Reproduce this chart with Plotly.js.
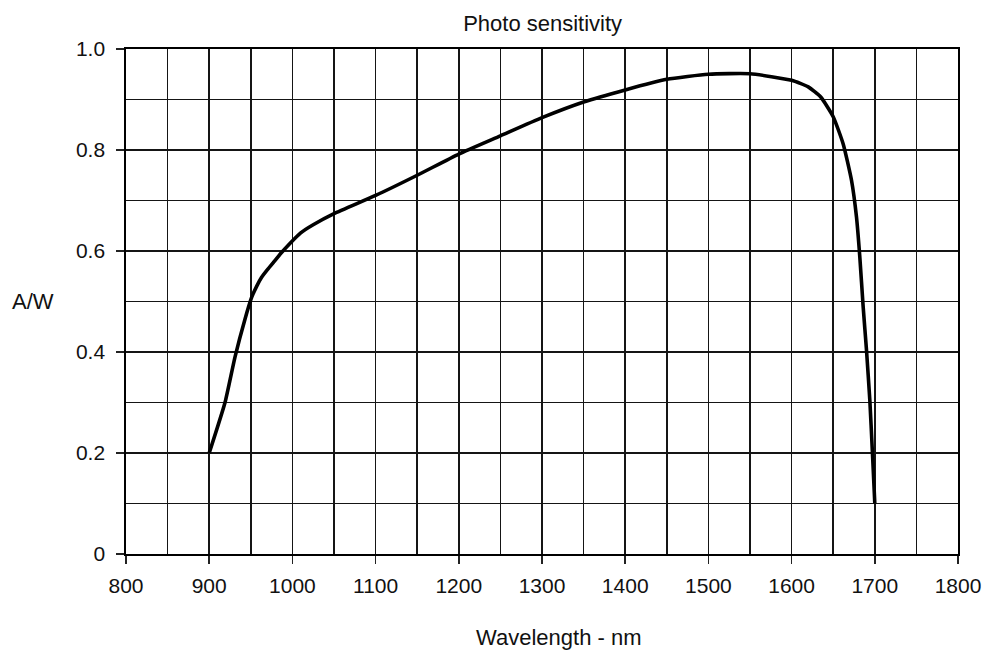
<!DOCTYPE html>
<html>
<head>
<meta charset="utf-8">
<script src="https://cdn.plot.ly/plotly-3.0.1.min.js"></script>
<style>html,body{margin:0;padding:0;background:#fff;}#chart{width:992px;height:655px;}</style>
</head>
<body>
<div id="chart"></div>
<script>
const wavelength = [900, 919, 931, 943, 951, 957, 963, 970, 977, 987, 997, 1010, 1025, 1050, 1100, 1150, 1200, 1250, 1300, 1350, 1400, 1450, 1500, 1550, 1600, 1620, 1635, 1650, 1662, 1672, 1678, 1682, 1686, 1690, 1694, 1697, 1700];
const sensitivity = [0.20, 0.30, 0.39, 0.465, 0.508, 0.530, 0.548, 0.563, 0.577, 0.597, 0.615, 0.636, 0.652, 0.674, 0.710, 0.750, 0.792, 0.828, 0.864, 0.895, 0.919, 0.940, 0.950, 0.951, 0.938, 0.925, 0.905, 0.866, 0.812, 0.740, 0.667, 0.588, 0.490, 0.404, 0.305, 0.206, 0.10];
const xTicks = [800, 900, 1000, 1100, 1200, 1300, 1400, 1500, 1600, 1700, 1800];
const yTicks = [0, 0.2, 0.4, 0.6, 0.8, 1.0];
const yTickText = ['0', '0.2', '0.4', '0.6', '0.8', '1.0'];
const titleText = 'Photo sensitivity';
const xTitle = 'Wavelength - nm';
const yTitle = 'A/W';

const FONT = '"Liberation Sans Narrow", "Arial Narrow", "Liberation Sans", Arial, sans-serif';
const GRID = '#151515';

const trace = {
  x: wavelength, y: sensitivity, type: 'scatter', mode: 'lines',
  line: {color: '#000', width: 3.6, shape: 'spline', smoothing: 0.5},
  hoverinfo: 'skip'
};

const layout = {
  width: 992, height: 655,
  margin: {l: 126, r: 34, t: 48.5, b: 101},
  paper_bgcolor: '#fff', plot_bgcolor: '#fff',
  showlegend: false,
  font: {family: FONT, size: 21, color: '#111'},
  title: {text: titleText, x: 0.547, xanchor: 'center', y: 0.965, yanchor: 'middle', font: {family: FONT, size: 22, color: '#111'}},
  xaxis: {
    range: [800, 1800], tickvals: xTicks, ticktext: xTicks.map(String),
    ticks: 'outside', ticklen: 8, tickwidth: 1.5, tickcolor: '#222', ticklabelstandoff: 4,
    showgrid: true, gridcolor: GRID, gridwidth: 1.7,
    minor: {dtick: 50, tick0: 800, showgrid: true, gridcolor: GRID, gridwidth: 1.7},
    showline: true, linecolor: '#000', linewidth: 1.7, mirror: true,
    zeroline: false, tickfont: {family: FONT, size: 21, color: '#111'}
  },
  yaxis: {
    range: [0, 1], tickvals: yTicks, ticktext: yTickText,
    ticks: 'outside', ticklen: 8, tickwidth: 1.5, tickcolor: '#222', ticklabelstandoff: 7,
    showgrid: true, gridcolor: GRID, gridwidth: 1.7,
    minor: {dtick: 0.1, tick0: 0, showgrid: true, gridcolor: GRID, gridwidth: 1.7},
    showline: true, linecolor: '#000', linewidth: 1.7, mirror: true,
    zeroline: false, tickfont: {family: FONT, size: 21, color: '#111'}
  },
  annotations: [
    {text: xTitle, xref: 'paper', yref: 'paper', x: 0.52, y: -0.165, xanchor: 'center', yanchor: 'middle', showarrow: false, font: {family: FONT, size: 22, color: '#111'}},
    {text: yTitle, xref: 'paper', yref: 'paper', x: -0.112, y: 0.5, xanchor: 'center', yanchor: 'middle', showarrow: false, font: {family: FONT, size: 22, color: '#111'}}
  ]
};

Plotly.newPlot('chart', [trace], layout, {staticPlot: true, displayModeBar: false});
</script>
</body>
</html>
